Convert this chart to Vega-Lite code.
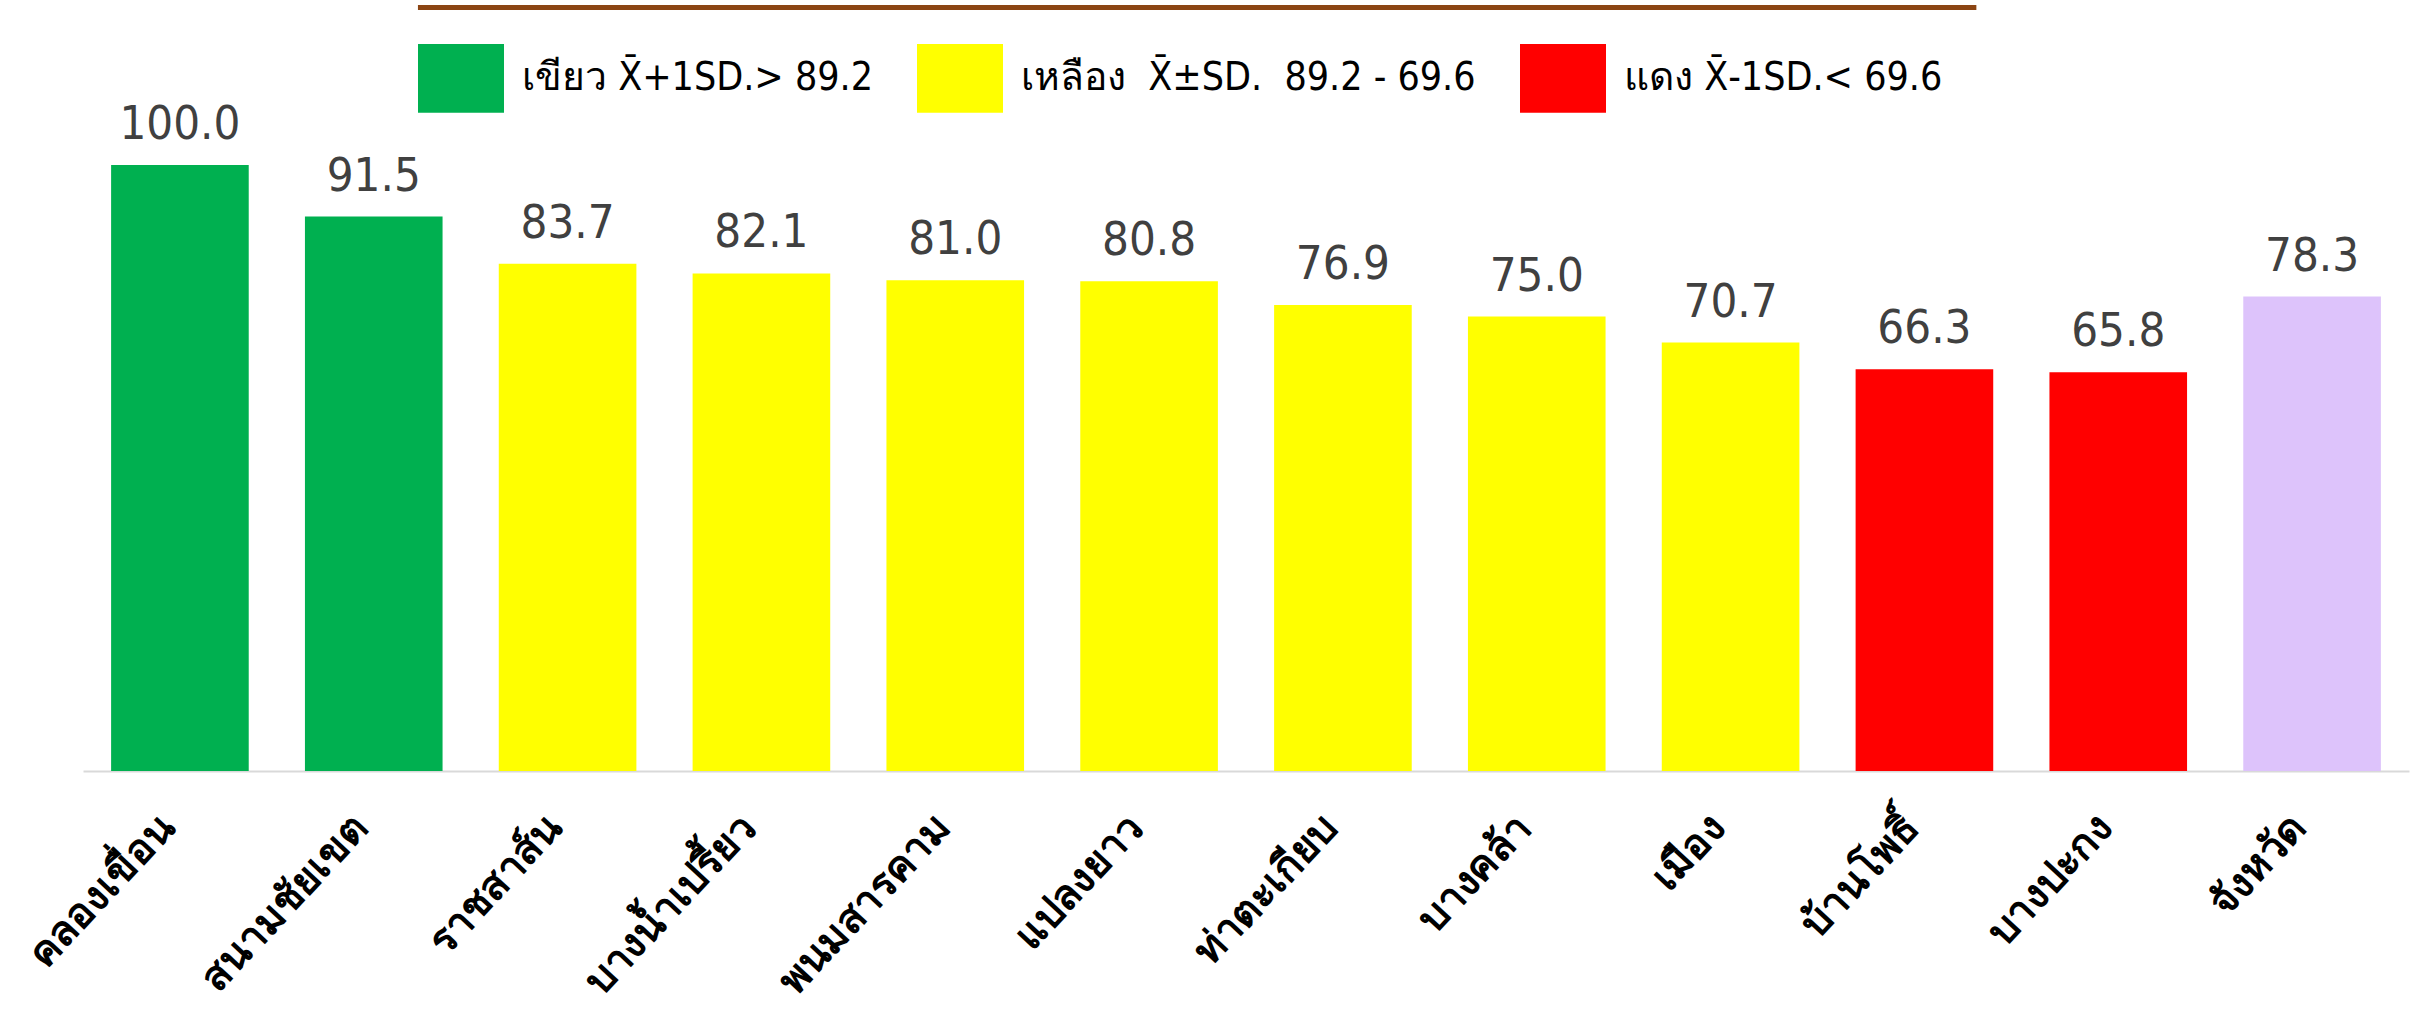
{
  "$schema": "https://vega.github.io/schema/vega-lite/v6.json",
  "width": 2326,
  "height": 606,
  "autosize": {"type": "none"},
  "padding": {"left": 83, "top": 165, "right": 3, "bottom": 247},
  "background": "white",
  "config": {"view": {"stroke": null}},
  "data": {
    "values": [
      {"district": "คลองเขื่อน", "value": 100.0, "group": "เขียว X̄+1SD.> 89.2"},
      {"district": "สนามชัยเขต", "value": 91.5, "group": "เขียว X̄+1SD.> 89.2"},
      {"district": "ราชสาส์น", "value": 83.7, "group": "เหลือง\u00a0 X̄±SD.\u00a0 89.2 - 69.6"},
      {"district": "บางน้ำเปรี้ยว", "value": 82.1, "group": "เหลือง\u00a0 X̄±SD.\u00a0 89.2 - 69.6"},
      {"district": "พนมสารคาม", "value": 81.0, "group": "เหลือง\u00a0 X̄±SD.\u00a0 89.2 - 69.6"},
      {"district": "แปลงยาว", "value": 80.8, "group": "เหลือง\u00a0 X̄±SD.\u00a0 89.2 - 69.6"},
      {"district": "ท่าตะเกียบ", "value": 76.9, "group": "เหลือง\u00a0 X̄±SD.\u00a0 89.2 - 69.6"},
      {"district": "บางคล้า", "value": 75.0, "group": "เหลือง\u00a0 X̄±SD.\u00a0 89.2 - 69.6"},
      {"district": "เมือง", "value": 70.7, "group": "เหลือง\u00a0 X̄±SD.\u00a0 89.2 - 69.6"},
      {"district": "บ้านโพธิ์", "value": 66.3, "group": "แดง X̄-1SD.< 69.6"},
      {"district": "บางปะกง", "value": 65.8, "group": "แดง X̄-1SD.< 69.6"},
      {"district": "จังหวัด", "value": 78.3, "group": "จังหวัด"}
    ]
  },
  "layer": [
    {
      "encoding": {
        "x": {
          "field": "district",
          "type": "nominal",
          "sort": null,
          "scale": {"paddingInner": 0.29, "paddingOuter": 0.145},
          "axis": {
            "title": null,
            "labelAngle": -47,
            "labelFontSize": 41,
            "labelFontWeight": "bold",
            "labelColor": "#000000",
            "labelPadding": 50,
            "labelOffset": -12,
            "labelLimit": 400,
            "ticks": false,
            "domainColor": "#D9D9D9",
            "domainWidth": 2
          }
        },
        "y": {
          "field": "value",
          "type": "quantitative",
          "scale": {"domain": [0, 100], "nice": false},
          "axis": {
            "title": null,
            "values": [0, 50, 100],
            "grid": false,
            "domain": false,
            "ticks": false,
            "labelFont": "Open Sans",
            "labelFontSize": 24,
            "labelColor": "#A6A6A6",
            "labelPadding": 13
          }
        }
      },
      "layer": [
        {
          "mark": {"type": "bar"},
          "encoding": {
            "color": {
              "field": "group",
              "type": "nominal",
              "scale": {
                "domain": ["เขียว X̄+1SD.> 89.2", "เหลือง\u00a0 X̄±SD.\u00a0 89.2 - 69.6", "แดง X̄-1SD.< 69.6", "จังหวัด"],
                "range": ["#00B050", "#FFFF00", "#FF0000", "#DDC3FB"]
              },
              "legend": {
                "values": ["เขียว X̄+1SD.> 89.2", "เหลือง\u00a0 X̄±SD.\u00a0 89.2 - 69.6", "แดง X̄-1SD.< 69.6"],
                "title": null,
                "orient": "none",
                "legendX": 335,
                "legendY": -130,
                "direction": "horizontal",
                "symbolType": "M-1,-0.8H1V0.8H-1Z",
                "symbolSize": 7396,
                "symbolStrokeWidth": 0,
                "symbolOpacity": 1,
                "labelFontSize": 39,
                "labelFont": "Liberation Sans Narrow, DejaVu Sans Condensed, sans-serif",
                "labelColor": "#000000",
                "labelLimit": 800,
                "labelOffset": 18,
                "columnPadding": 44
              }
            }
          }
        },
        {
          "mark": {
            "type": "text",
            "baseline": "bottom",
            "dy": -16,
            "fontSize": 47,
            "font": "Liberation Sans Narrow, DejaVu Sans Condensed, sans-serif",
            "color": "#404040"
          },
          "encoding": {
            "text": {"field": "value", "type": "quantitative", "format": ".1f"}
          }
        }
      ]
    },
    {
      "data": {"values": [{"start": 14.4, "end": 81.4, "level": 126}]},
      "mark": {"type": "rule", "color": "#8B4513", "strokeWidth": 5},
      "encoding": {
        "x": {"field": "start", "type": "quantitative", "scale": {"domain": [0, 100], "nice": false}, "axis": null},
        "x2": {"field": "end"},
        "y": {"field": "level", "type": "quantitative", "scale": {"domain": [0, 100], "nice": false}, "axis": null}
      }
    }
  ],
  "resolve": {"scale": {"x": "independent"}, "axis": {"x": "independent"}}
}
